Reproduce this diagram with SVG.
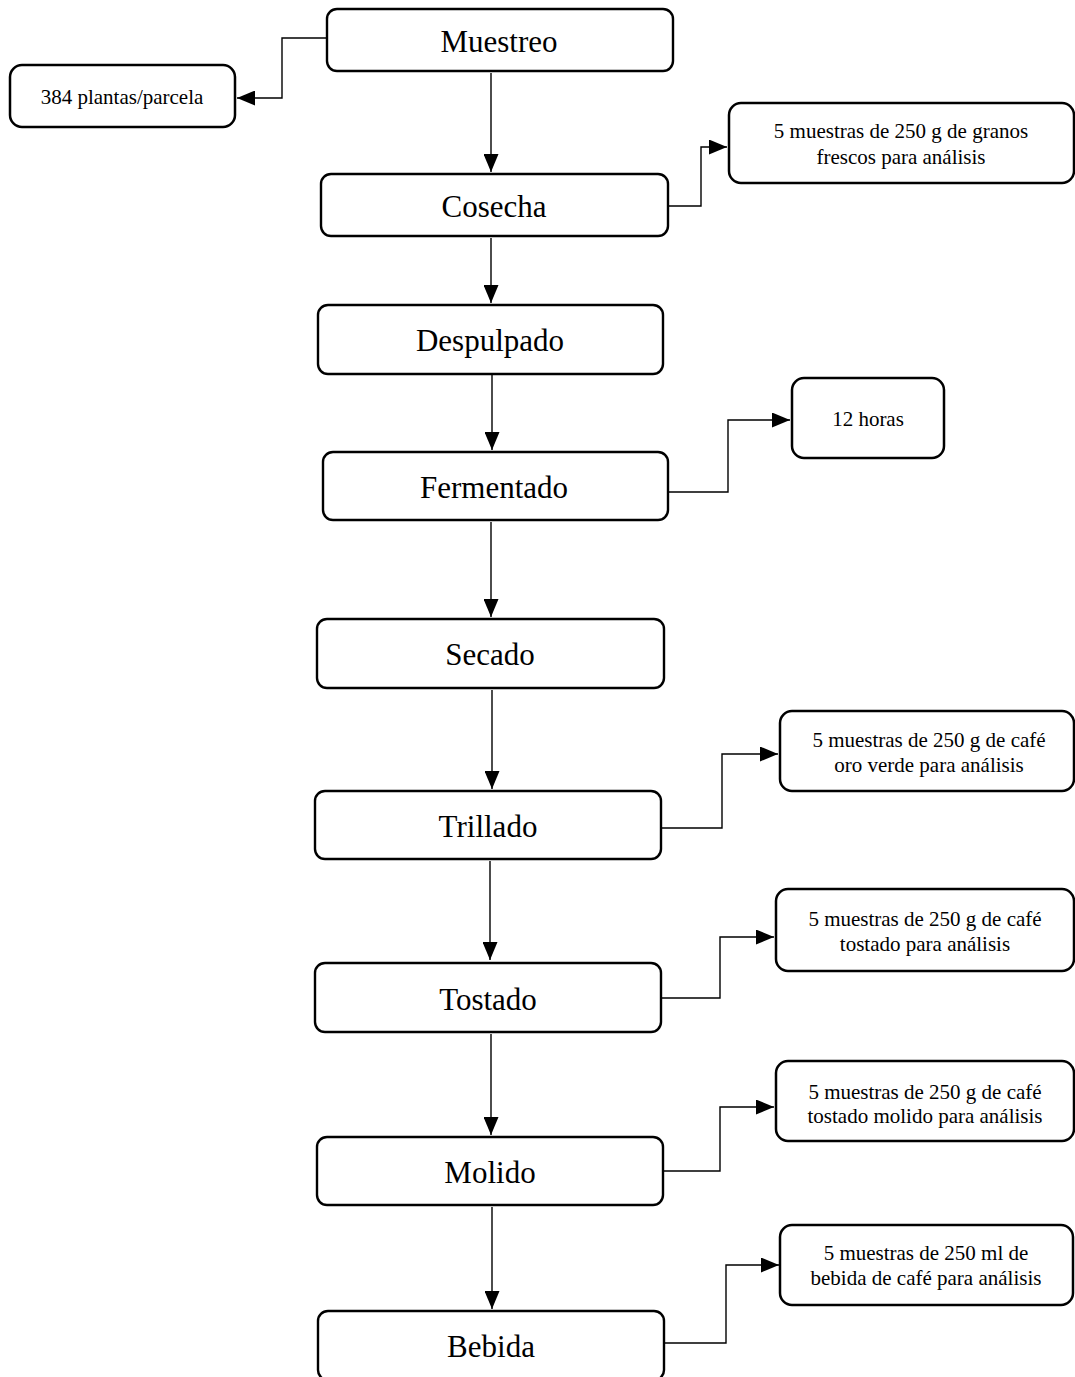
<svg xmlns="http://www.w3.org/2000/svg" width="1075" height="1377" viewBox="0 0 1075 1377">
<style>
.main{fill:#fff;stroke:#000;stroke-width:2.4}
.side{fill:#fff;stroke:#000;stroke-width:2.5}
.mt{font-family:"Liberation Serif","Times New Roman",serif;font-size:31px;fill:#000;text-anchor:middle}
.st{font-family:"Liberation Serif","Times New Roman",serif;font-size:21px;fill:#000;text-anchor:middle}
.c{fill:none;stroke:#000;stroke-width:1.4}
</style>
<defs>
<marker id="ah" markerUnits="userSpaceOnUse" markerWidth="18" markerHeight="15" refX="18" refY="7.5" orient="auto">
<path d="M0,0 L18,7.5 L0,15 z" fill="#000"/>
</marker>
</defs>
<rect width="1075" height="1377" fill="#fff"/>
<g id="connectors">
<path class="c" d="M327,38 H282 V98 H237" marker-end="url(#ah)"/>
<path class="c" d="M491,73 V172" marker-end="url(#ah)"/>
<path class="c" d="M668,206 H701 V147 H727" marker-end="url(#ah)"/>
<path class="c" d="M491,238 V303" marker-end="url(#ah)"/>
<path class="c" d="M492,375 V450" marker-end="url(#ah)"/>
<path class="c" d="M668,492 H728 V420 H790" marker-end="url(#ah)"/>
<path class="c" d="M491,522 V617" marker-end="url(#ah)"/>
<path class="c" d="M492,690 V789" marker-end="url(#ah)"/>
<path class="c" d="M661,828 H722 V754 H778" marker-end="url(#ah)"/>
<path class="c" d="M490,861 V960" marker-end="url(#ah)"/>
<path class="c" d="M661,998 H720 V937 H774" marker-end="url(#ah)"/>
<path class="c" d="M491,1034 V1135" marker-end="url(#ah)"/>
<path class="c" d="M663,1171 H720 V1107 H774" marker-end="url(#ah)"/>
<path class="c" d="M492,1207 V1309" marker-end="url(#ah)"/>
<path class="c" d="M664,1343 H726 V1265 H779" marker-end="url(#ah)"/>
</g>
<g id="muestreo"><rect class="main" x="327" y="9" width="346" height="62" rx="10"/><text class="mt" x="499" y="52">Muestreo</text></g>
<g id="plantas"><rect class="side" x="10" y="65" width="225" height="62" rx="12"/><text class="st" x="122" y="104">384 plantas/parcela</text></g>
<g id="cosecha"><rect class="main" x="321" y="174" width="347" height="62" rx="10"/><text class="mt" x="494" y="217">Cosecha</text></g>
<g id="granos"><rect class="side" x="729" y="103" width="345" height="80" rx="12"/><text class="st" x="901" y="138">5 muestras de 250 g de granos</text><text class="st" x="901" y="164">frescos para análisis</text></g>
<g id="despulpado"><rect class="main" x="318" y="305" width="345" height="69" rx="10"/><text class="mt" x="490" y="351">Despulpado</text></g>
<g id="fermentado"><rect class="main" x="323" y="452" width="345" height="68" rx="10"/><text class="mt" x="494" y="498">Fermentado</text></g>
<g id="horas"><rect class="side" x="792" y="378" width="152" height="80" rx="12"/><text class="st" x="868" y="426">12 horas</text></g>
<g id="secado"><rect class="main" x="317" y="619" width="347" height="69" rx="10"/><text class="mt" x="490" y="665">Secado</text></g>
<g id="trillado"><rect class="main" x="315" y="791" width="346" height="68" rx="10"/><text class="mt" x="488" y="837">Trillado</text></g>
<g id="oro"><rect class="side" x="780" y="711" width="294" height="80" rx="12"/><text class="st" x="929" y="747">5 muestras de 250 g de café</text><text class="st" x="929" y="772">oro verde para análisis</text></g>
<g id="tostado"><rect class="main" x="315" y="963" width="346" height="69" rx="10"/><text class="mt" x="488" y="1010">Tostado</text></g>
<g id="tostado-m"><rect class="side" x="776" y="889" width="298" height="82" rx="12"/><text class="st" x="925" y="926">5 muestras de 250 g de café</text><text class="st" x="925" y="951">tostado para análisis</text></g>
<g id="molido"><rect class="main" x="317" y="1137" width="346" height="68" rx="10"/><text class="mt" x="490" y="1183">Molido</text></g>
<g id="molido-m"><rect class="side" x="776" y="1061" width="298" height="80" rx="12"/><text class="st" x="925" y="1099">5 muestras de 250 g de café</text><text class="st" x="925" y="1123">tostado molido para análisis</text></g>
<g id="bebida"><rect class="main" x="318" y="1311" width="346" height="69" rx="10"/><text class="mt" x="491" y="1357">Bebida</text></g>
<g id="bebida-m"><rect class="side" x="780" y="1225" width="293" height="80" rx="12"/><text class="st" x="926" y="1260">5 muestras de 250 ml de</text><text class="st" x="926" y="1285">bebida de café para análisis</text></g>
</svg>
